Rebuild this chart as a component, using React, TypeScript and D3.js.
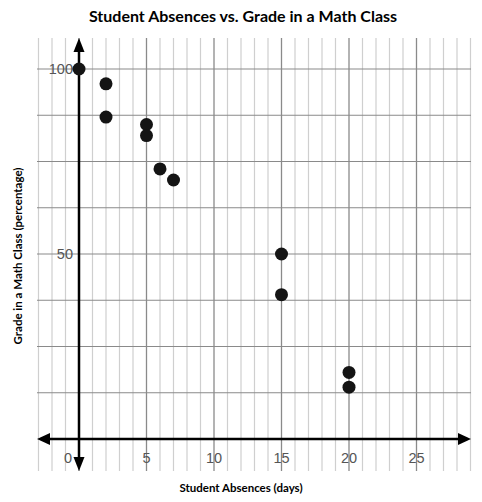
import React from 'react';
import * as d3 from 'd3';

// Reading off the picture
const absences = [0, 2, 2, 5, 5, 6, 7, 15, 15, 20, 20];
const grades = [100, 96, 87, 85, 82, 73, 70, 50, 39, 18, 14];
const xTickLabels = [0, 5, 10, 15, 20, 25];
const yTickLabels = [50, 100];
const yGridValues = [12.5, 25, 37.5, 50, 62.5, 75, 87.5, 100];

const W = 482;
const H = 502;

const App: React.FC = () => {
  const x = d3.scaleLinear().domain([0, 25]).range([79, 416.5]);
  const y = d3.scaleLinear().domain([0, 100]).range([439, 69]);

  const gridTop = 38;
  const gridBottom = 471;
  const gridLeft = 37;
  const gridRight = 471;

  const vLines = d3.range(-3, 30).filter(d => x(d) >= gridLeft && x(d) <= gridRight);

  const axisY = y(0);
  const axisX = x(0);

  return (
    <svg width={W} height={H} style={{ position: 'absolute', left: 0, top: 0, background: '#fff' }}>
      {/* grid */}
      <g>
        {vLines.map(d => (
          <line
            key={'v' + d}
            x1={x(d)}
            x2={x(d)}
            y1={gridTop}
            y2={gridBottom}
            stroke={d % 5 === 0 ? '#8a8a8a' : '#cfcfcf'}
            strokeWidth={d % 5 === 0 ? 1.3 : 1.2}
          />
        ))}
        {yGridValues.map(v => (
          <line
            key={'h' + v}
            x1={gridLeft}
            x2={gridRight}
            y1={y(v)}
            y2={y(v)}
            stroke="#8a8a8a"
            strokeWidth={1.2}
          />
        ))}
      </g>

      {/* y tick labels */}
      {yTickLabels.map(v => (
        <text
          key={'yl' + v}
          x={73}
          y={y(v)}
          dy="0.36em"
          textAnchor="end"
          fontFamily="Liberation Sans, Arial, sans-serif"
          fontSize={14.5}
          fill="#555"
        >
          {v}
        </text>
      ))}

      {/* x tick labels */}
      {xTickLabels.map(v => (
        <text
          key={'xl' + v}
          x={v === 0 ? x(v) - 11 : x(v)}
          y={458}
          dy="0.36em"
          textAnchor="middle"
          fontFamily="Liberation Sans, Arial, sans-serif"
          fontSize={14.5}
          fill="#555"
        >
          {v}
        </text>
      ))}

      {/* axes */}
      <line x1={gridLeft + 10} x2={gridRight - 10} y1={axisY} y2={axisY} stroke="#000" strokeWidth={2.5} />
      <line x1={axisX} x2={axisX} y1={gridTop + 10} y2={gridBottom - 10} stroke="#000" strokeWidth={2.5} />
      <path d={`M${gridLeft},${axisY} L${gridLeft + 13},${axisY - 6} L${gridLeft + 13},${axisY + 6} Z`} fill="#000" />
      <path d={`M${gridRight},${axisY} L${gridRight - 13},${axisY - 6} L${gridRight - 13},${axisY + 6} Z`} fill="#000" />
      <path d={`M${axisX},${gridTop} L${axisX - 5.5},${gridTop + 14} L${axisX + 5.5},${gridTop + 14} Z`} fill="#000" />
      <path d={`M${axisX},${gridBottom} L${axisX - 5.5},${gridBottom - 14} L${axisX + 5.5},${gridBottom - 14} Z`} fill="#000" />

      {/* points */}
      {absences.map((a, i) => (
        <circle key={'p' + i} cx={x(a)} cy={y(grades[i])} r={6.5} fill="#141414" />
      ))}

      {/* titles */}
      <text
        x={243}
        y={16}
        dy="0.36em"
        textAnchor="middle"
        fontFamily="Lato, 'Open Sans', sans-serif"
        fontWeight="bold"
        fontSize={16}
        fill="#000"
      >
        Student Absences vs. Grade in a Math Class
      </text>
      <text
        x={241}
        y={488}
        dy="0.36em"
        textAnchor="middle"
        fontFamily="Lato, 'Open Sans', sans-serif"
        fontWeight="bold"
        fontSize={11.5}
        fill="#000"
      >
        Student Absences (days)
      </text>
      <text
        transform="translate(18,256) rotate(-90)"
        dy="0.36em"
        textAnchor="middle"
        fontFamily="Lato, 'Open Sans', sans-serif"
        fontWeight="bold"
        fontSize={11.5}
        fill="#000"
      >
        Grade in a Math Class (percentage)
      </text>
    </svg>
  );
};

export default App;
